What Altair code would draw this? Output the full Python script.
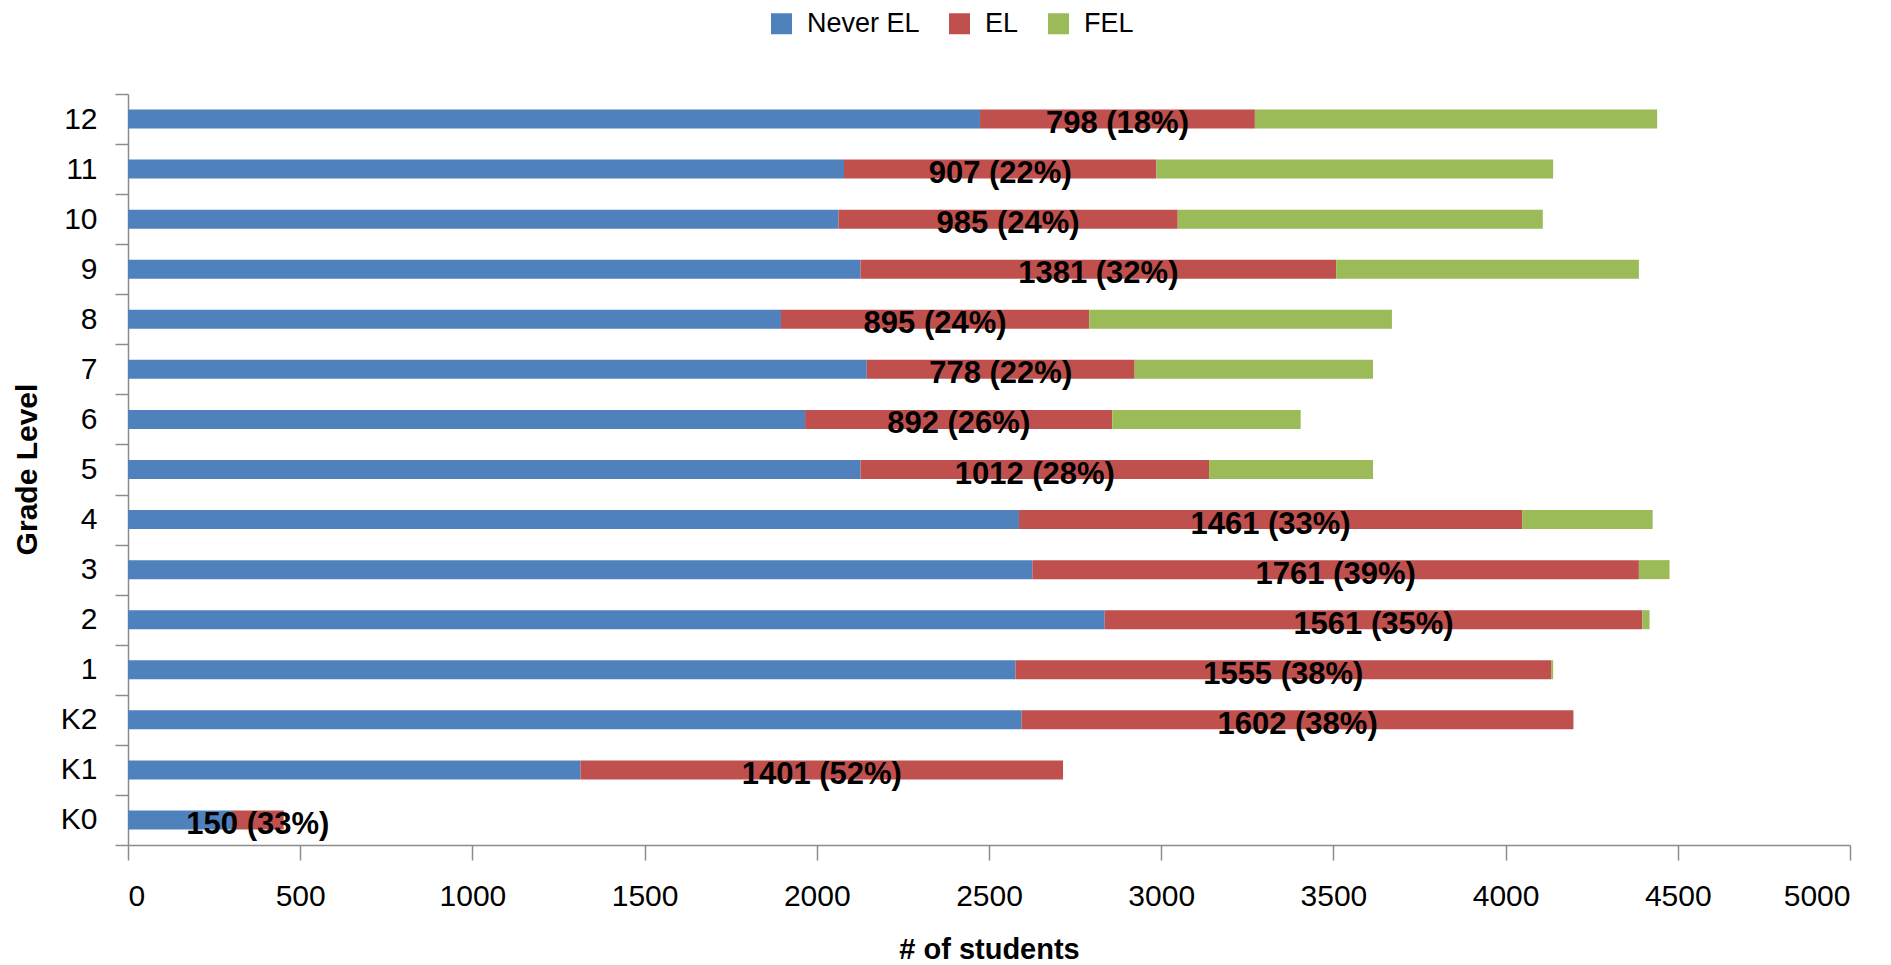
import altair as alt
import pandas as pd

grades = ["K0", "K1", "K2", "1", "2", "3", "4", "5", "6", "7", "8", "9", "10", "11", "12"]
never_el = [302, 1314, 2595, 2577, 2836, 2626, 2587, 2127, 1966, 2145, 1896, 2127, 2063, 2079, 2474]
el = [150, 1401, 1602, 1555, 1561, 1761, 1461, 1012, 892, 778, 895, 1381, 985, 907, 798]
fel = [0, 0, 0, 6, 21, 89, 379, 476, 547, 692, 879, 879, 1060, 1152, 1168]
el_pct = [33, 52, 38, 38, 35, 39, 33, 28, 26, 22, 24, 32, 24, 22, 18]

series_names = ["Never EL", "EL", "FEL"]
series_colors = ["#4F81BD", "#C0504D", "#9BBB59"]
x_ticks = [0, 500, 1000, 1500, 2000, 2500, 3000, 3500, 4000, 4500, 5000]

rows = []
for i, g in enumerate(grades):
    for k, (name, vals) in enumerate(zip(series_names, [never_el, el, fel])):
        rows.append({"grade": g, "series": name, "value": vals[i], "ord": k})
bars_df = pd.DataFrame(rows)

labels_df = pd.DataFrame({
    "grade": grades,
    "mid": [n + e / 2 for n, e in zip(never_el, el)],
    "label": [f"{e} ({p}%)" for e, p in zip(el, el_pct)],
})

y_order = list(reversed(grades))
FONT = "Liberation Sans"

y_enc = alt.Y(
    "grade:N",
    sort=y_order,
    scale=alt.Scale(paddingInner=0, paddingOuter=0),
    axis=alt.Axis(
        title="Grade Level",
        titleFont=FONT, titleFontSize=30, titleFontWeight="bold", titleColor="#000000",
        titleX=-101, titleY=375, titleAngle=270, titleAlign="center", titleBaseline="middle",
        labelFont=FONT, labelFontSize=30, labelColor="#000000", labelPadding=18,
        tickBand="extent", tickSize=13, tickColor="#8c8c8c", tickWidth=1.5,
        domainColor="#8c8c8c", domainWidth=1.5, grid=False,
    ),
)

bars = alt.Chart(bars_df).mark_bar(size=19).encode(
    x=alt.X(
        "value:Q",
        stack="zero",
        scale=alt.Scale(domain=[0, 5000], nice=False),
        axis=alt.Axis(
            title="# of students",
            values=x_ticks, format="d",
            titleFont=FONT, titleFontSize=29, titleFontWeight="bold", titleColor="#000000",
            titleY=90, titleBaseline="top",
            labelFont=FONT, labelFontSize=30, labelColor="#000000", labelPadding=21,
            tickSize=15, tickColor="#8c8c8c", tickWidth=1.5,
            domainColor="#8c8c8c", domainWidth=1.5, grid=False,
        ),
    ),
    y=y_enc,
    color=alt.Color(
        "series:N",
        scale=alt.Scale(domain=series_names, range=series_colors),
        legend=alt.Legend(
            title=None, orient="none", direction="horizontal",
            legendX=640, legendY=-84,
            symbolType="square", symbolSize=441, symbolStrokeWidth=0,
            labelFont=FONT, labelFontSize=27, labelColor="#000000",
            labelOffset=12, columnPadding=26, padding=0,
        ),
    ),
    order=alt.Order("ord:Q"),
)

texts = alt.Chart(labels_df).mark_text(
    font=FONT, fontSize=31, fontWeight="bold", color="#000000",
    align="center", baseline="middle", dy=5,
).encode(
    x=alt.X("mid:Q"),
    y=alt.Y("grade:N", sort=y_order),
    text="label:N",
)

chart = alt.layer(bars, texts).properties(
    width=1722, height=751,
    autosize="none",
    padding={"left": 120, "top": 86, "right": 30, "bottom": 122},
    background="white",
).configure_view(stroke=None)

chart.save("out.html", embed_options={"renderer": "svg", "actions": False})
